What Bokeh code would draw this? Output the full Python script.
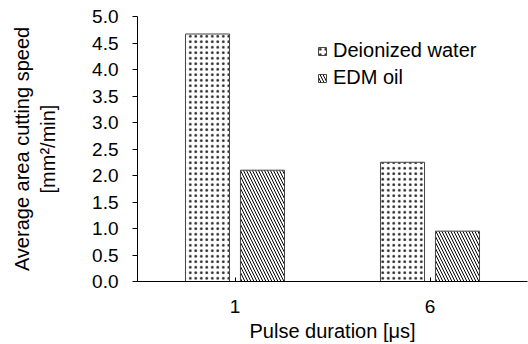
from bokeh.plotting import figure
from bokeh.models import (FactorRange, ColumnDataSource, Legend, LegendItem,
                          FixedTicker, NumeralTickFormatter)
from bokeh.transform import dodge
from bokeh.embed import file_html
from bokeh.resources import INLINE

# ---- data ----
durations = ["1", "6"]
deionized_water = [4.67, 2.25]
edm_oil = [2.10, 0.95]
series_names = ["Deionized water", "EDM oil"]
y_ticks = [0.0, 0.5, 1.0, 1.5, 2.0, 2.5, 3.0, 3.5, 4.0, 4.5, 5.0]
x_title = "Pulse duration [\u03bcs]"
y_title = "Average area cutting speed\n[mm\u00b2/min]"

FONT = "Liberation Sans"

source = ColumnDataSource(dict(x=durations, dw=deionized_water, oil=edm_oil))

p = figure(width=528, height=344,
           x_range=FactorRange(factors=durations, range_padding=0),
           y_range=(0, 5),
           output_backend="svg", toolbar_location=None,
           min_border_left=137, min_border_right=1,
           min_border_top=16, min_border_bottom=60)

r1 = p.vbar(x=dodge("x", -0.141, range=p.x_range), top="dw", width=0.226,
            source=source, fill_color="white", line_color="#444444", line_width=1,
            hatch_pattern="dot", hatch_color="black", hatch_scale=5.5,
            hatch_weight=0.6, hatch_alpha=0.85)
r2 = p.vbar(x=dodge("x", 0.141, range=p.x_range), top="oil", width=0.226,
            source=source, fill_color="white", line_color="#444444", line_width=1,
            hatch_pattern="left_diagonal_line", hatch_color="black",
            hatch_scale=6, hatch_weight=1.0)

legend = Legend(items=[LegendItem(label=series_names[0], renderers=[r1]),
                       LegendItem(label=series_names[1], renderers=[r2])],
                location=(180, 192), glyph_width=10, glyph_height=10,
                label_standoff=6, spacing=4, padding=0, margin=0,
                border_line_color=None, background_fill_alpha=0,
                label_text_font=FONT, label_text_font_size="20px",
                label_height=20, label_text_color="black")
p.add_layout(legend)

p.xgrid.visible = False
p.ygrid.visible = False
p.outline_line_color = None

# y axis
p.yaxis.ticker = FixedTicker(ticks=y_ticks)
p.yaxis.formatter = NumeralTickFormatter(format="0.0")
p.yaxis.major_tick_out = 5
p.yaxis.major_tick_in = 0
p.yaxis.minor_tick_line_color = None
p.yaxis.major_label_standoff = 14
p.yaxis.axis_label = y_title
p.yaxis.axis_label_standoff = 30
p.yaxis.axis_line_color = "black"
p.yaxis.major_tick_line_color = "black"

# x axis
p.xaxis.major_tick_in = 4
p.xaxis.major_tick_out = 0
p.xaxis.major_label_standoff = 18
p.xaxis.axis_label = x_title
p.xaxis.axis_label_standoff = 4
p.xaxis.axis_line_color = "black"
p.xaxis.major_tick_line_color = "black"

for ax in (p.xaxis, p.yaxis):
    ax.major_label_text_font = FONT
    ax.major_label_text_font_size = "19px"
    ax.major_label_text_color = "black"
    ax.axis_label_text_font = FONT
    ax.axis_label_text_font_size = "20px"
    ax.axis_label_text_font_style = "normal"
    ax.axis_label_text_color = "black"

open("out.html", "w").write(file_html(p, INLINE))
